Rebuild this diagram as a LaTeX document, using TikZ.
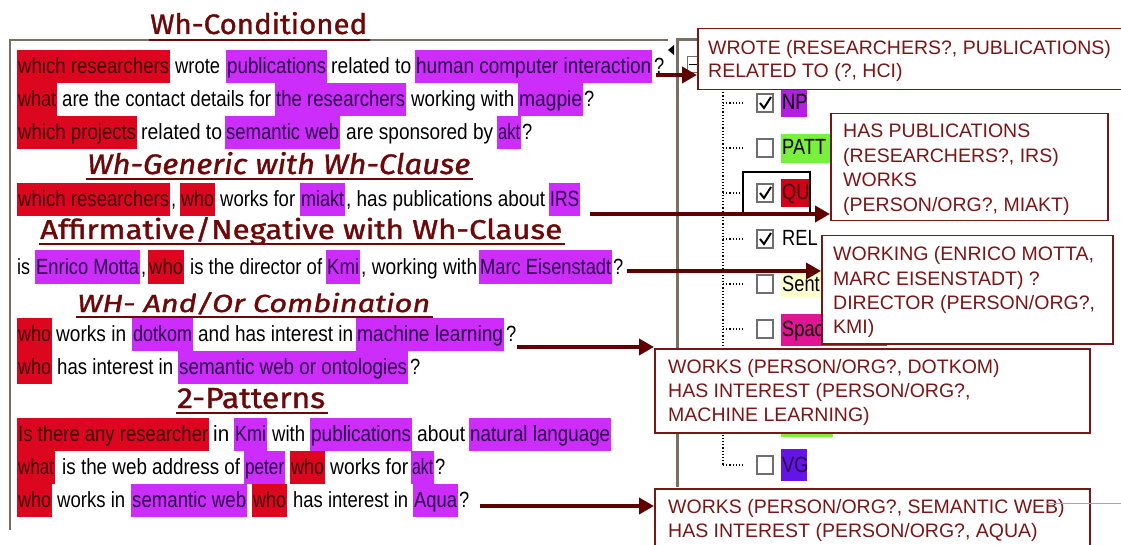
\documentclass[tikz,border=0pt]{standalone}
\usepackage{fontspec}
\setmainfont{Liberation Sans}
\newfontfamily\sentfont[FakeStretch=0.83]{Liberation Sans}
\newfontfamily\headfont[FakeBold=1.2]{Fira Sans}
\usetikzlibrary{arrows.meta}
\definecolor{hred}{RGB}{220,6,30}
\definecolor{hredtxt}{RGB}{60,0,10}
\definecolor{hpur}{RGB}{205,45,250}
\definecolor{hpurtxt}{RGB}{40,0,70}
\definecolor{maroon}{RGB}{110,8,8}
\definecolor{boxred}{RGB}{122,22,22}
\definecolor{arrowred}{RGB}{95,0,0}
\definecolor{panelgray}{RGB}{120,112,100}
\definecolor{chkgray}{RGB}{110,110,110}
\definecolor{labpur}{RGB}{180,30,225}
\definecolor{labgreen}{RGB}{120,240,60}
\definecolor{labred}{RGB}{210,0,24}
\definecolor{labyel}{RGB}{255,255,205}
\definecolor{labmag}{RGB}{225,20,150}
\definecolor{labvio}{RGB}{100,20,230}
\newcounter{sg}
\newcommand\hlt[5]{%
  \stepcounter{sg}%
  \fill[#1] (#2,{#4-16.5}) rectangle (#3,{#4+16.5});
  \node[seg,text=#1txt,anchor=base west] (sg\arabic{sg}) at ({#2+1},{#4+7}) {\resizebox{\dimexpr #3pt-#2pt-2pt\relax}{\height}{#5}};}
\newcommand\ptx[4]{%
  \stepcounter{sg}%
  \node[seg,anchor=base west] (sg\arabic{sg}) at (#1,{#3+7}) {\resizebox{\dimexpr #2pt-#1pt\relax}{\height}{#4}};}
\newcommand\qtx[3]{%
  \stepcounter{sg}%
  \node[seg,anchor=base west] (sg\arabic{sg}) at (#1,{#2+7}) {#3};}
\newcommand\hdr[7]{%
  \node[anchor=base west,inner sep=0,text=maroon] (#1) at (#2,#4) {\resizebox{\dimexpr #3pt-#2pt\relax}{#5pt}{#7}};
  \draw[maroon,line width=2.5pt] ({#2-1},#6) -- ({#3+3},#6);}
\newcommand\bline[3]{%
  \stepcounter{sg}%
  \node[btext,anchor=base west] (sg\arabic{sg}) at (#1,#2) {#3};}
\tikzset{
  seg/.style={inner sep=0,font=\sentfont\fontsize{22}{26}\selectfont,text=black},
  btext/.style={inner sep=0,font=\fontsize{19.5}{24}\selectfont,text=boxred},
  rbox/.style={draw=boxred,line width=1.5pt,fill=white,inner sep=0,anchor=north west},
  arr/.style={draw=arrowred,line width=4pt,-{Triangle[length=15pt,width=16pt]}},
}
\begin{document}
\begin{tikzpicture}[x=1pt,y=-1pt]
\useasboundingbox (0,0) rectangle (1121,545);
\clip (0,0) rectangle (1121,545);
\fill[white] (0,0) rectangle (1121,545);
% panel borders
\draw[panelgray,line width=2pt] (10,530) -- (10,40) -- (668,40);
\draw[panelgray,line width=3pt] (677,487) -- (677,40) -- (697,40);
\fill[black] (668,50) -- (674,45) -- (674,55) -- cycle;
% headers
\hdr{h1}{150}{367}{34}{22}{40}{\headfont Wh-Conditioned}
\hdr{h2}{87}{470}{174}{22}{179}{\headfont\itshape Wh-Generic with Wh-Clause}
\hdr{h3}{40}{562}{239}{22}{244}{\headfont Affirmative/Negative with Wh-Clause}
\hdr{h4}{77}{430}{312}{20}{317}{\headfont\itshape WH- And/Or Combination}
\hdr{h5}{177}{325}{408}{20}{413}{\headfont 2-Patterns}
% row 1
\hlt{hred}{17}{170}{67}{which researchers}
\ptx{175}{220}{67}{wrote}
\hlt{hpur}{226}{327}{67}{publications}
\ptx{331}{411}{67}{related to}
\hlt{hpur}{415}{652}{67}{human computer interaction}
\qtx{654}{67}{?}
% row 2
\hlt{hred}{17}{57}{100}{what}
\ptx{62}{271}{100}{are the contact details for}
\hlt{hpur}{275}{406}{100}{the researchers}
\ptx{411}{514}{100}{working with}
\hlt{hpur}{518}{583}{100}{magpie}
\qtx{584}{100}{?}
% row 3
\hlt{hred}{17}{137}{133}{which projects}
\ptx{141}{222}{133}{related to}
\hlt{hpur}{225}{340}{133}{semantic web}
\ptx{346}{493}{133}{are sponsored by}
\hlt{hpur}{497}{521}{133}{akt}
\qtx{522}{133}{?}
% row 4
\hlt{hred}{17}{170}{200}{which researchers}
\qtx{171}{200}{,}
\hlt{hred}{180}{215}{200}{who}
\ptx{220}{295}{200}{works for}
\hlt{hpur}{300}{345}{200}{miakt}
\ptx{346}{545}{200}{, has publications about}
\hlt{hpur}{549}{580}{200}{IRS}
% row 5
\ptx{17}{30}{267}{is}
\hlt{hpur}{35}{140}{267}{Enrico Motta}
\qtx{141}{267}{,}
\hlt{hred}{148}{184}{267}{who}
\ptx{190}{322}{267}{is the director of}
\hlt{hpur}{326}{360}{267}{Kmi}
\ptx{361}{477}{267}{, working with}
\hlt{hpur}{479}{612}{267}{Marc Eisenstadt}
\qtx{613}{267}{?}
% row 6
\hlt{hred}{17}{52}{334}{who}
\ptx{56}{126}{334}{works in}
\hlt{hpur}{132}{193}{334}{dotkom}
\ptx{198}{353}{334}{and has interest in}
\hlt{hpur}{356}{504}{334}{machine learning}
\qtx{506}{334}{?}
% row 7
\hlt{hred}{17}{52}{367}{who}
\ptx{57}{173}{367}{has interest in}
\hlt{hpur}{178}{408}{367}{semantic web or ontologies}
\qtx{410}{367}{?}
% row 8
\hlt{hred}{17}{209}{434}{Is there any researcher}
\ptx{213}{229}{434}{in}
\hlt{hpur}{234}{267}{434}{Kmi}
\ptx{272}{305}{434}{with}
\hlt{hpur}{310}{412}{434}{publications}
\ptx{417}{465}{434}{about}
\hlt{hpur}{469}{611}{434}{natural language}
% row 9
\hlt{hred}{17}{55}{467}{what}
\ptx{62}{240}{467}{is the web address of}
\hlt{hpur}{244}{285}{467}{peter}
\hlt{hred}{290}{325}{467}{who}
\ptx{330}{408}{467}{works for}
\hlt{hpur}{411}{434}{467}{akt}
\qtx{435}{467}{?}
% row 10
\hlt{hred}{17}{52}{500}{who}
\ptx{57}{125}{500}{works in}
\hlt{hpur}{131}{247}{500}{semantic web}
\hlt{hred}{252}{287}{500}{who}
\ptx{293}{408}{500}{has interest in}
\hlt{hpur}{413}{458}{500}{Aqua}
\qtx{459}{500}{?}
% tree panel
\draw[chkgray,line width=1pt] (687,57) rectangle (700,73);
\draw[black,line width=1pt] (689,65) -- (698,65);
\draw[black,dotted,line width=1.2pt] (723,89) -- (723,465);
\foreach \y/\c in {103/1,148/0,193/1,239/1,284/0,329/0,375/0,420/0,465/0}{
  \draw[black,dotted,line width=1.2pt] (723,\y) -- (745,\y);
  \draw[chkgray,line width=1.2pt,fill=white] (757,\y-9) rectangle (773,\y+9);
  \ifnum\c=1 \draw[black,line width=2pt] (760,\y) -- (764,\y+5) -- (771,\y-6); \fi
}
\fill[labpur] (781,90) rectangle (807,117);
\node[seg,anchor=base west] (lnp) at (782,110) {NP};
\fill[labgreen] (781,134) rectangle (830,163);
\node[seg,anchor=base west] (lpatt) at (782,155) {PATT};
\fill[labred] (781,179) rectangle (810,207);
\node[seg,anchor=base west,text=hredtxt] (lqu) at (782,200) {QU};
\draw[black,line width=1.5pt] (743,172) rectangle (810,213);
\node[seg,anchor=base west] (lrel) at (782,246) {REL};
\fill[labyel] (781,270) rectangle (825,298);
\node[seg,anchor=base west] (lsent) at (782,291) {Sent};
\fill[labmag] (781,314) rectangle (887,346);
\node[seg,anchor=base west] (lspac) at (782,336) {Spac};
\fill[labgreen] (781,405) rectangle (833,437);
\fill[labvio] (781,449) rectangle (807,481);
\node[seg,anchor=base west,text=hpurtxt] (lvg) at (782,472) {VG};
% result boxes
\node[rbox,minimum width=428pt,minimum height=61pt] (b1) at (697,28) {};
\bline{708}{55}{WROTE (RESEARCHERS?, PUBLICATIONS)}
\bline{708}{78}{RELATED TO (?, HCI)}
\node[rbox,minimum width=277pt,minimum height=107pt] (b2) at (830,113) {};
\bline{843}{138}{HAS PUBLICATIONS}
\bline{843}{163}{(RESEARCHERS?, IRS)}
\bline{843}{187}{WORKS}
\bline{843}{212}{(PERSON/ORG?, MIAKT)}
\node[rbox,minimum width=291pt,minimum height=108pt] (b3) at (821,235) {};
\bline{833}{261}{WORKING (ENRICO MOTTA,}
\bline{833}{285}{MARC EISENSTADT) ?}
\bline{833}{309}{DIRECTOR (PERSON/ORG?,}
\bline{833}{333}{KMI)}
\node[rbox,minimum width=435pt,minimum height=84pt] (b4) at (654,348) {};
\bline{668}{373}{WORKS (PERSON/ORG?, DOTKOM)}
\bline{668}{397}{HAS INTEREST (PERSON/ORG?,}
\bline{668}{421}{MACHINE LEARNING)}
\node[rbox,minimum width=435pt,minimum height=80pt] (b5) at (654,488) {};
\bline{668}{513}{WORKS (PERSON/ORG?, SEMANTIC WEB)}
\bline{668}{537}{HAS INTEREST (PERSON/ORG?, AQUA)}
\draw[cyan!70,line width=0.8pt] (1047,503) -- (1121,503);
% arrows
\coordinate (s1) at (656,75);
\coordinate (s2) at (590,214);
\coordinate (s3) at (627,271);
\coordinate (s4) at (517,347);
\coordinate (s5) at (480,506);
\draw[arr] (s1) -- (s1 -| b1.west);
\draw[arr] (s2) -- (s2 -| b2.west);
\draw[arr] (s3) -- (s3 -| b3.west);
\draw[arr] (s4) -- (s4 -| b4.west);
\draw[arr] (s5) -- (s5 -| b5.west);
\end{tikzpicture}
\end{document}
